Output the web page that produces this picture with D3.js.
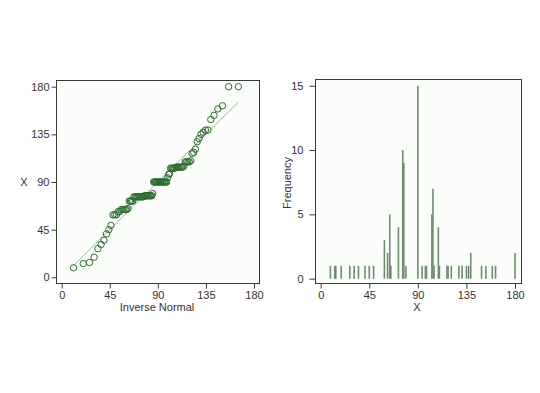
<!DOCTYPE html>
<html><head><meta charset="utf-8">
<script src="https://cdn.jsdelivr.net/npm/d3@7"></script>
<style>
html,body{margin:0;padding:0;background:#fff;}
svg{display:block;font-family:"Liberation Sans",Arial,sans-serif;}
</style></head>
<body>
<svg id="c" width="540" height="393"></svg>
<script>
// distinct values of X and their frequencies
const values = [9,13,14,19,27,31,35,41,45,49,59,62,64,65,72,76,77,79,90,94,97,98,103,104,105,109,110,117,118,121,128,131,135,137,139,149,153,159,162,180];
const counts = [1,1,1,1,1,1,1,1,1,1,3,2,5,1,4,10,9,1,15,1,1,1,5,7,1,4,1,1,1,1,1,1,1,1,2,1,1,1,1,2];
const xTicks = [0,45,90,135,180];
const freqTicks = [0,5,10,15];

// inverse normal CDF (Acklam)
function invNorm(p){
  const a=[-3.969683028665376e+01,2.209460984245205e+02,-2.759285104469687e+02,1.383577518672690e+02,-3.066479806614716e+01,2.506628277459239e+00];
  const b=[-5.447609879822406e+01,1.615858368580409e+02,-1.556989798598866e+02,6.680131188771972e+01,-1.328068155288572e+01];
  const c=[-7.784894002430293e-03,-3.223964580411365e-01,-2.400758277161838e+00,-2.549732539343734e+00,4.374664141464968e+00,2.938163982698783e+00];
  const d=[7.784695709041462e-03,3.224671290700398e-01,2.445134137142996e+00,3.754408661907416e+00];
  const pl=0.02425;
  let q,r;
  if(p<pl){q=Math.sqrt(-2*Math.log(p));return (((((c[0]*q+c[1])*q+c[2])*q+c[3])*q+c[4])*q+c[5])/((((d[0]*q+d[1])*q+d[2])*q+d[3])*q+1);}
  if(p>1-pl){q=Math.sqrt(-2*Math.log(1-p));return -(((((c[0]*q+c[1])*q+c[2])*q+c[3])*q+c[4])*q+c[5])/((((d[0]*q+d[1])*q+d[2])*q+d[3])*q+1);}
  q=p-0.5;r=q*q;
  return (((((a[0]*r+a[1])*r+a[2])*r+a[3])*r+a[4])*r+a[5])*q/(((((b[0]*r+b[1])*r+b[2])*r+b[3])*r+b[4])*r+1);
}

// expand to observations
const obs = [];
values.forEach((v,i)=>{for(let k=0;k<counts[i];k++)obs.push(v);});
obs.sort((a,b)=>a-b);
const n = obs.length, mean = d3.mean(obs), sd = d3.deviation(obs);
const qq = obs.map((v,i)=>({q: mean + sd*invNorm((i+1)/(n+1)), v}));

const svg = d3.select("#c");
const txt = "#333";
const frameCol = "#3a3a3a";

function styleAxis(g){
  g.select(".domain").remove();
  g.selectAll(".tick line").attr("stroke",frameCol);
  g.selectAll(".tick text").attr("fill",txt).style("font-size","11px").style("font-family","Liberation Sans, Arial, sans-serif");
}

// ---------- left panel: normal quantile plot ----------
const L = {x0:56,x1:259,y0:80,y1:283};
const xL = d3.scaleLinear().domain([0,180]).range([61.7,254]);
const yL = d3.scaleLinear().domain([0,180]).range([277.3,86.7]);

svg.append("rect").attr("x",L.x0).attr("y",L.y0).attr("width",L.x1-L.x0).attr("height",L.y1-L.y0)
  .attr("fill","#fbfdfb");

const qMin = d3.min(qq,d=>d.q), qMax = d3.max(qq,d=>d.q);
svg.append("line")
  .attr("x1",xL(qMin)).attr("y1",yL(qMin)).attr("x2",xL(qMax)).attr("y2",yL(qMax))
  .attr("stroke","#9fb89f").attr("stroke-width",1);

svg.append("g").selectAll("circle").data(qq).join("circle")
  .attr("cx",d=>xL(d.q)).attr("cy",d=>yL(d.v)).attr("r",3.2)
  .attr("fill","none").attr("stroke","#2f6a2f").attr("stroke-width",1);

svg.append("rect").attr("x",L.x0+0.5).attr("y",L.y0+0.5).attr("width",L.x1-L.x0).attr("height",L.y1-L.y0)
  .attr("fill","none").attr("stroke",frameCol).attr("stroke-width",1);

svg.append("g").attr("transform",`translate(${L.x0+0.5},0)`)
  .call(d3.axisLeft(yL).tickValues(xTicks).tickSize(5).tickPadding(2)).call(styleAxis);
svg.append("g").attr("transform",`translate(0,${L.y1+0.5})`)
  .call(d3.axisBottom(xL).tickValues(xTicks).tickSize(5).tickPadding(3)).call(styleAxis);

svg.append("text").attr("x",24).attr("y",186).attr("text-anchor","middle")
  .attr("fill",txt).style("font-size","11px").text("X");
svg.append("text").attr("x",157).attr("y",311).attr("text-anchor","middle")
  .attr("fill",txt).style("font-size","11px").text("Inverse Normal");

// ---------- right panel: spike plot of frequencies ----------
const R = {x0:315,x1:521,y0:79,y1:283};
const xR = d3.scaleLinear().domain([0,180]).range([320.7,515]);
const yR = d3.scaleLinear().domain([0,15]).range([278.7,85.7]);

svg.append("rect").attr("x",R.x0).attr("y",R.y0).attr("width",R.x1-R.x0).attr("height",R.y1-R.y0)
  .attr("fill","#fbfdfb");

svg.append("g").selectAll("line").data(values.map((v,i)=>({v,c:counts[i]}))).join("line")
  .attr("x1",d=>xR(d.v)).attr("x2",d=>xR(d.v))
  .attr("y1",yR(0)).attr("y2",d=>yR(d.c))
  .attr("stroke","#6f8c6f").attr("stroke-width",1.6);

svg.append("rect").attr("x",R.x0+0.5).attr("y",R.y0+0.5).attr("width",R.x1-R.x0).attr("height",R.y1-R.y0)
  .attr("fill","none").attr("stroke",frameCol).attr("stroke-width",1);

svg.append("g").attr("transform",`translate(${R.x0+0.5},0)`)
  .call(d3.axisLeft(yR).tickValues(freqTicks).tickSize(6).tickPadding(6)).call(styleAxis);
svg.append("g").attr("transform",`translate(0,${R.y1+0.5})`)
  .call(d3.axisBottom(xR).tickValues(xTicks).tickSize(5).tickPadding(3)).call(styleAxis);

svg.append("text").attr("transform","translate(291,183) rotate(-90)").attr("text-anchor","middle")
  .attr("fill",txt).style("font-size","11px").text("Frequency");
svg.append("text").attr("x",417).attr("y",311).attr("text-anchor","middle")
  .attr("fill",txt).style("font-size","11px").text("X");
</script>
</body></html>
